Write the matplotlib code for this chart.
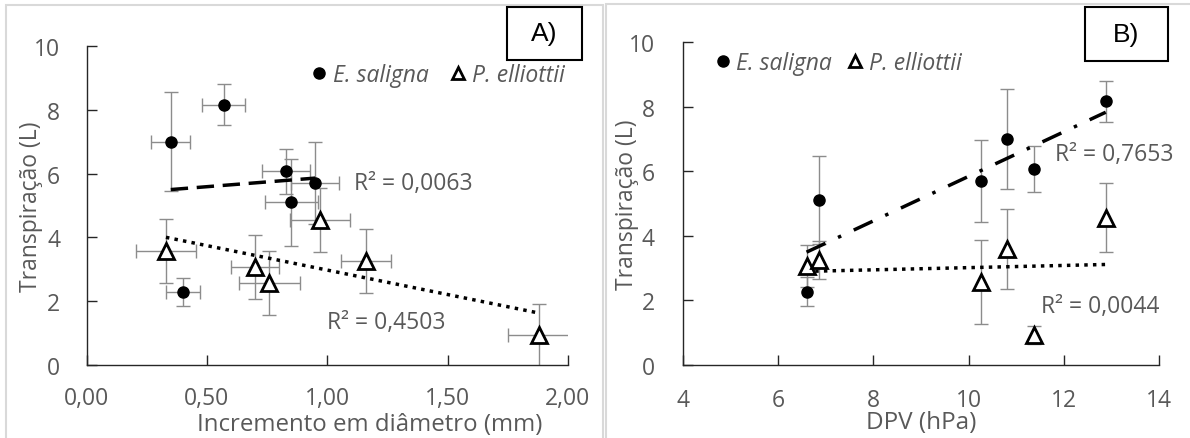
import matplotlib
matplotlib.use("Agg")
import matplotlib.pyplot as plt
import numpy as np
from matplotlib.patches import Rectangle

plt.rcParams["font.family"] = ["Open Sans", "DejaVu Sans"]

# E. saligna: diameter increment (mm), transpiration (L), VPD (hPa)
es_incr = [0.35, 0.57, 0.83, 0.95, 0.85, 0.40]
es_incr_err = [0.08, 0.09, 0.10, 0.10, 0.11, 0.07]
es_transp = [7.00, 8.17, 6.07, 5.70, 5.10, 2.27]
es_transp_err = [1.55, 0.63, 0.70, 1.28, 1.36, 0.44]
es_dpv = [10.80, 12.88, 11.38, 10.27, 6.86, 6.60]

# P. elliottii
pe_incr = [0.33, 0.70, 0.76, 0.97, 1.16, 1.88]
pe_incr_err = [0.125, 0.10, 0.127, 0.123, 0.104, 0.127]
pe_transp = [3.58, 3.06, 2.57, 4.55, 3.25, 0.92]
pe_transp_err_a = [1.0, 1.0, 1.0, 1.0, 1.0, 1.0]
pe_dpv = [10.80, 6.60, 10.27, 12.88, 6.86, 11.38]
pe_transp_err_b = [1.24, 0.66, 1.30, 1.07, 0.59, 0.29]

# linear trend lines (slope, intercept) and R² labels
trend_a_es = (0.60, 5.29)
trend_a_pe = (-1.535, 4.507)
trend_b_es = (0.691, -1.07)
trend_b_pe = (0.034, 2.67)
r2_a = ["R² = 0,0063", "R² = 0,4503"]
r2_b = ["R² = 0,7653", "R² = 0,0044"]

GRAY = "#595959"
BAR = "#8c8c8c"
FS = 16.5

fig = plt.figure(figsize=(11.9, 4.39), dpi=100)
axA = fig.add_axes([0.0727, 0.167, 0.4045, 0.7253])
axB = fig.add_axes([0.5737, 0.167, 0.4003, 0.7344])

# panel frames
fig.patches.append(Rectangle((6 / 1190, -0.05), 597 / 1190, 1.05 - 6 / 439,
                             transform=fig.transFigure, fill=False,
                             edgecolor="#d9d9d9", lw=1.5))
fig.patches.append(Rectangle((606 / 1190, -0.05), 600 / 1190, 1.05 - 5 / 439,
                             transform=fig.transFigure, fill=False,
                             edgecolor="#d9d9d9", lw=1.5))


def trend(ax, x, coef, style, lw):
    xs = np.array([min(x), max(x)])
    ax.plot(xs, coef[0] * xs + coef[1], color="black", linestyle=style, lw=lw, zorder=2)


def style_axes(ax, xpad, ypad):
    for s in ["top", "right"]:
        ax.spines[s].set_visible(False)
    for s in ["left", "bottom"]:
        ax.spines[s].set_color("#262626")
        ax.spines[s].set_linewidth(1.0)
    ax.tick_params(direction="in", length=7, width=1.0, color="#262626",
                   labelsize=FS, labelcolor=GRAY)
    ax.tick_params(axis="x", pad=xpad)
    ax.tick_params(axis="y", pad=ypad)
    ax.set_ylim(0, 10)
    ax.set_yticks([0, 2, 4, 6, 8, 10])
    ax.set_ylabel("Transpiração (L)", fontsize=FS, color=GRAY, va="center")
    ax.yaxis.set_label_coords(-0.116, 0.5)


# A) transpiration vs diameter increment
ax = axA
ax.errorbar(es_incr, es_transp, xerr=es_incr_err, yerr=es_transp_err, fmt="none",
            ecolor=BAR, elinewidth=1.0, capsize=5, capthick=1.0, zorder=1)
ax.errorbar(pe_incr, pe_transp, xerr=pe_incr_err, yerr=pe_transp_err_a, fmt="none",
            ecolor=BAR, elinewidth=1.0, capsize=5, capthick=1.0, zorder=1)
trend(ax, es_incr, trend_a_es, (0, (5, 2.5)), 2.5)
trend(ax, pe_incr, trend_a_pe, (0, (1, 1.5)), 2.5)
ax.plot(es_incr, es_transp, "o", color="black", ms=8, ls="none", label="E. saligna", zorder=3)
ax.plot(pe_incr, pe_transp, "^", mfc="white", mec="black", mew=2, ms=11, ls="none",
        label="P. elliottii", zorder=3)
ax.set_xlim(0, 2)
ax.set_xticks([0, 0.5, 1.0, 1.5, 2.0])
ax.set_xticklabels(["0,00", "0,50", "1,00", "1,50", "2,00"])
style_axes(ax, 15, 19)
ax.set_xlabel("Incremento em diâmetro (mm)", fontsize=17.3, color=GRAY, va="center")
ax.xaxis.set_label_coords(0.588, -0.185)
ax.text(1.11, 5.71, r2_a[0], fontsize=FS, color=GRAY, va="center")
ax.text(1.00, 1.34, r2_a[1], fontsize=FS, color=GRAY, va="center")
leg = ax.legend(loc="center left", bbox_to_anchor=(0.45, 0.91), ncol=2, frameon=False,
                handlelength=0.6, handletextpad=0.3, columnspacing=1.0,
                prop={"size": FS, "style": "italic"}, labelcolor=GRAY, borderaxespad=0)
leg.legend_handles[1].set_markersize(9)

# B) transpiration vs VPD
ax = axB
ax.errorbar(es_dpv, es_transp, yerr=es_transp_err, fmt="none",
            ecolor=BAR, elinewidth=1.0, capsize=5, capthick=1.0, zorder=1)
ax.errorbar(pe_dpv, pe_transp, yerr=pe_transp_err_b, fmt="none",
            ecolor=BAR, elinewidth=1.0, capsize=5, capthick=1.0, zorder=1)
trend(ax, es_dpv, trend_b_es, (0, (6, 4, 1, 4)), 2.5)
trend(ax, pe_dpv, trend_b_pe, (0, (1, 1.5)), 2.5)
ax.plot(es_dpv, es_transp, "o", color="black", ms=8, ls="none", label="E. saligna", zorder=3)
ax.plot(pe_dpv, pe_transp, "^", mfc="white", mec="black", mew=2, ms=11, ls="none",
        label="P. elliottii", zorder=3)
ax.set_xlim(4, 14)
ax.set_xticks([4, 6, 8, 10, 12, 14])
style_axes(ax, 17, 20)
ax.set_xlabel("DPV (hPa)", fontsize=17.5, color=GRAY, va="center")
ax.xaxis.set_label_coords(0.5, -0.178)
ax.text(11.82, 6.54, r2_b[0], fontsize=FS, color=GRAY, va="center")
ax.text(11.52, 1.82, r2_b[1], fontsize=FS, color=GRAY, va="center")
leg = ax.legend(loc="center left", bbox_to_anchor=(0.05, 0.935), ncol=2, frameon=False,
                handlelength=0.6, handletextpad=0.3, columnspacing=0.7,
                prop={"size": FS, "style": "italic"}, labelcolor=GRAY, borderaxespad=0)
leg.legend_handles[1].set_markersize(9)

# panel letters
for cx, cy, w, h, lab in [(544.2, 34.0, 75, 53, "A)"), (1126.0, 35.3, 83, 54, "B)")]:
    fig.patches.append(Rectangle(((cx - w / 2) / 1190, 1 - (cy + h / 2) / 439),
                                 w / 1190, h / 439, transform=fig.transFigure,
                                 fill=False, edgecolor="black", lw=1.5))
    fig.text(cx / 1190, 1 - cy / 439, lab, fontsize=19, family="Liberation Sans",
             ha="center", va="center")

fig.savefig("out.png", dpi=100)
